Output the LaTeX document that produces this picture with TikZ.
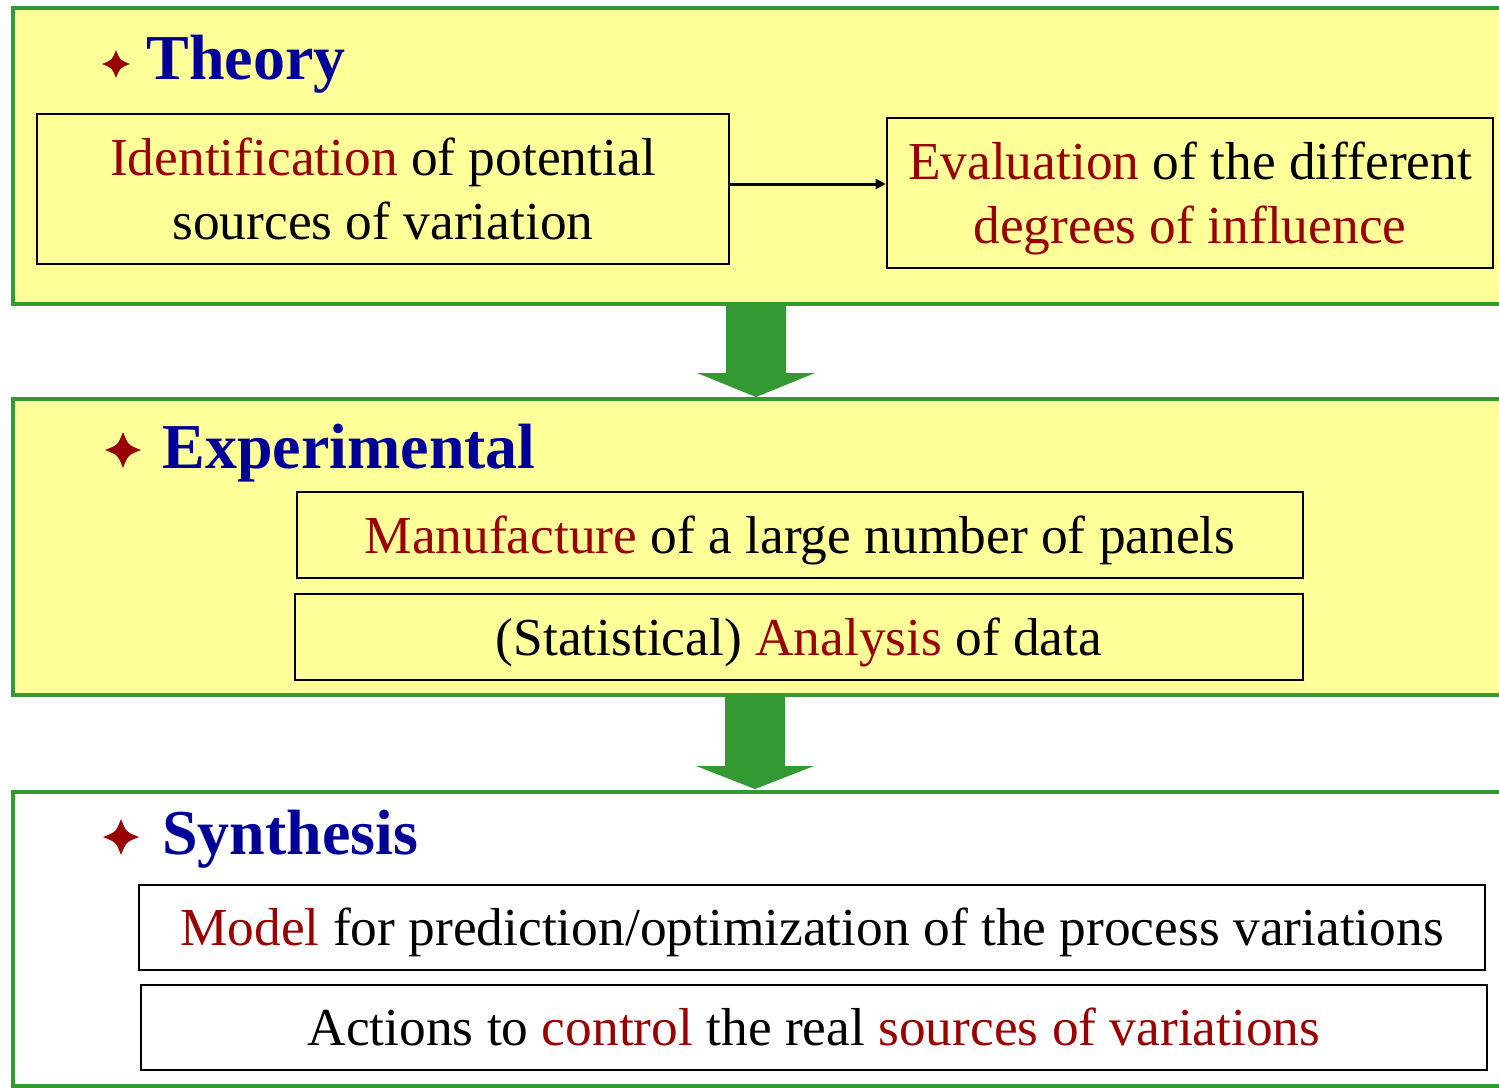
\documentclass[tikz,border=0pt]{standalone}
\usepackage{fontspec}
\setmainfont{Liberation Serif}
\usetikzlibrary{arrows.meta}
\definecolor{pnY}{RGB}{255,255,153}
\definecolor{pnG}{RGB}{51,153,51}
\definecolor{txR}{RGB}{153,0,0}
\definecolor{txB}{RGB}{0,0,153}
\newcommand{\PX}{1520}
\newcommand{\hl}[1]{\textcolor{txR}{#1}}
\newcommand{\lnstrut}{\rule[-0.216em]{0pt}{1.107em}}

\begin{document}
\begin{tikzpicture}[
    x=0.5pt, y=-0.5pt,
    panel/.style={draw=pnG, line width=2pt},
    box/.style={rectangle, draw=black, line width=1.3pt, inner sep=0pt, align=center,
      font=\fontsize{26.7}{32}\selectfont},
    head/.style={anchor=base west, inner sep=0pt, text=txB,
      font=\fontsize{32}{36}\selectfont\bfseries},
    link/.style={-{Triangle[length=5pt,width=5pt]}, line width=1.5pt},
  ]

  % four-pointed bullet: #1 x, #2 y, #3 radius
  \newcommand{\spark}[3]{%
    \fill[txR, shift={(#1,#2)}] (0,{-#3})
      .. controls ({0.28*#3},{-0.28*#3}) .. ({#3},0)
      .. controls ({0.28*#3},{0.28*#3}) .. (0,{#3})
      .. controls ({-0.28*#3},{0.28*#3}) .. ({-#3},0)
      .. controls ({-0.28*#3},{-0.28*#3}) .. cycle;}

  % block arrow between panels: #1 x, #2 top, #3 head start, #4 tip
  \newcommand{\drop}[4]{%
    \fill[pnG] ({#1-30},#2) -- ({#1+30},#2) -- ({#1+30},#3) -- ({#1+59},#3)
      -- (#1,#4) -- ({#1-59},#3) -- ({#1-30},#3) -- cycle;}

  \useasboundingbox (0,0) rectangle (1499,1087);
  \clip (0,0) rectangle (1499,1087);

  % panels run past the right edge
  \draw[panel, fill=pnY] (13,8) rectangle (\PX,304);
  \draw[panel, fill=pnY] (13,399) rectangle (\PX,695);
  \draw[panel, fill=white] (13,792) rectangle (\PX,1086);

  \drop{756}{304}{373}{397}
  \drop{755}{695}{766}{789}

  % theory
  \spark{116}{64}{14}
  \node[head] (theory) at (146,79) {Theory};
  \node[box, minimum width=346pt, minimum height=75pt] (ident) at (383,189)
    {\lnstrut\hl{Identification} of potential\\ \lnstrut sources of variation};
  \node[box, minimum width=303pt, minimum height=75pt] (evalu) at (1190,193)
    {\lnstrut\hl{Evaluation} of the different\\ \lnstrut\hl{degrees of influence}};
  \draw[link] ([yshift=2.5pt]ident.east) -- ([yshift=2.5pt]ident.east -| evalu.west);

  % experimental
  \spark{123}{450}{18}
  \node[head] (exper) at (162,468) {Experimental};
  \node[box, minimum width=503pt, minimum height=43pt] (manuf) at (800,535)
    {\lnstrut\hl{Manufacture} of a large number of panels};
  \node[box, minimum width=504pt, minimum height=43pt] (analy) at (799,637)
    {\lnstrut(Statistical) \hl{Analysis} of data};

  % synthesis
  \spark{121}{837}{18}
  \node[head] (synth) at (162,854) {Synthesis};
  \node[box, minimum width=673pt, minimum height=42.5pt] (model) at (812,927.5)
    {\lnstrut\hl{Model} for prediction/optimization of the process variations};
  \node[box, minimum width=673pt, minimum height=42.5pt] (actio) at (814,1027.5)
    {\lnstrut Actions to \hl{control} the real \hl{sources of variations}};

\end{tikzpicture}
\end{document}
